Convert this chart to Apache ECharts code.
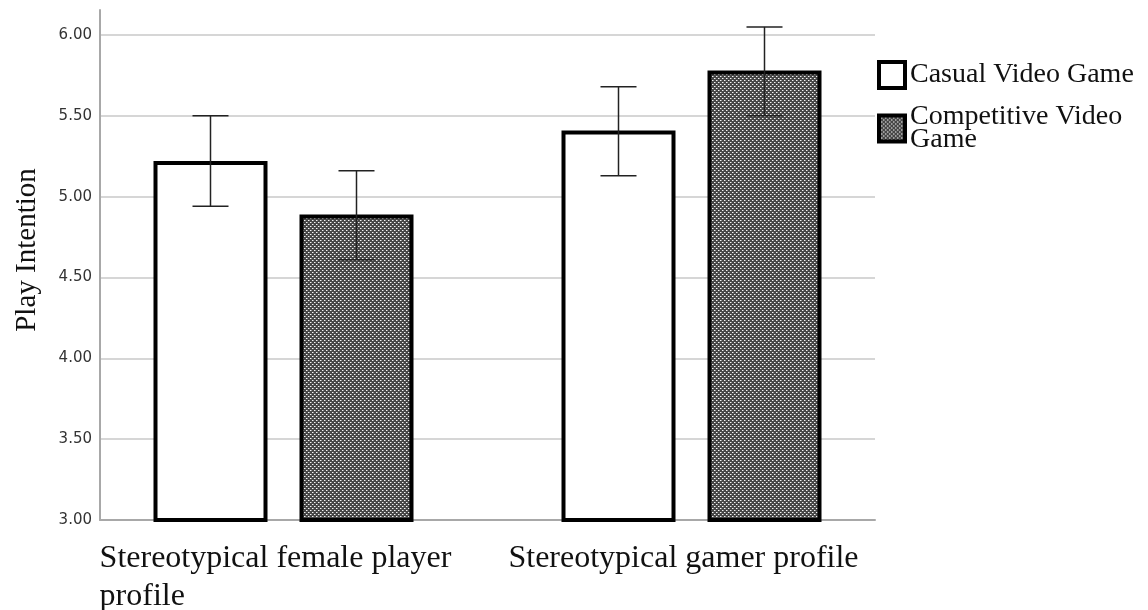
<!DOCTYPE html>
<html>
<head>
<meta charset="utf-8">
<script src="https://cdn.jsdelivr.net/npm/echarts@6/dist/echarts.min.js"></script>
<style>
html,body{margin:0;padding:0;background:#fff;}
#chart{width:1148px;height:610px;}
</style>
</head>
<body>
<div id="chart"></div>
<script>
// ---- data ----
var categories = ['Stereotypical female player\nprofile', 'Stereotypical gamer profile'];
var seriesNames = ['Casual Video Game', 'Competitive Video Game'];
var casualMean = [5.22, 5.41];
var casualLow = [4.94, 5.13];
var casualHigh = [5.50, 5.68];
var competitiveMean = [4.89, 5.78];
var competitiveLow = [4.61, 5.50];
var competitiveHigh = [5.16, 6.05];
var yMin = 3, yMax = 6, yStep = 0.5;

// ---- pattern fill ----
var pc = document.createElement('canvas');
pc.width = 4; pc.height = 4;
var pctx = pc.getContext('2d');
pctx.fillStyle = '#474747';
pctx.fillRect(0, 0, 4, 4);
pctx.fillStyle = '#f4f4f4';
pctx.fillRect(0, 0, 1, 1);
pctx.fillRect(2, 2, 1, 1);
pctx.fillStyle = '#9a9a9a';
pctx.fillRect(1, 0, 1, 1);
pctx.fillRect(3, 2, 1, 1);
var patternFill = { image: pc, repeat: 'repeat' };

var serif = 'Liberation Serif, Times New Roman, serif';
var BAR_W = 114, BAR_GAP_PX = 32;
var offset = (BAR_W + BAR_GAP_PX) / 2;

function errData(low, high) {
  return low.map(function (l, i) { return [i, l, high[i]]; });
}
function errRender(dx) {
  return function (params, api) {
    var cat = api.value(0);
    var pLow = api.coord([cat, api.value(1)]);
    var pHigh = api.coord([cat, api.value(2)]);
    var x = pLow[0] + dx;
    var cap = 18;
    var st = { stroke: '#222', lineWidth: 1.5 };
    return {
      type: 'group',
      children: [
        { type: 'line', shape: { x1: x, y1: pLow[1], x2: x, y2: pHigh[1] }, style: st },
        { type: 'line', shape: { x1: x - cap, y1: pLow[1], x2: x + cap, y2: pLow[1] }, style: st },
        { type: 'line', shape: { x1: x - cap, y1: pHigh[1], x2: x + cap, y2: pHigh[1] }, style: st }
      ]
    };
  };
}

var chart = echarts.init(document.getElementById('chart'), null, { renderer: 'canvas' });
chart.setOption({
  animation: false,
  backgroundColor: '#fff',
  grid: [
    { left: 100, right: 273, top: 35, bottom: 90, outerBoundsMode: 'none', containLabel: false },
    { left: 100, right: 273, top: 10, bottom: 90, outerBoundsMode: 'none', containLabel: false },
    { left: 79.5, right: 252.5, top: 35, bottom: 90, outerBoundsMode: 'none', containLabel: false }
  ],
  legend: {
    orient: 'vertical',
    left: 877,
    top: 60,
    padding: 0,
    itemGap: 13,
    itemWidth: 26,
    itemHeight: 26,
    icon: 'rect',
    formatter: function (n) { return n === seriesNames[1] ? 'Competitive Video\nGame' : n; },
    textStyle: { fontFamily: serif, fontSize: 28, color: '#111', lineHeight: 23 },
    data: [
      { name: seriesNames[0], itemStyle: { color: '#fff', borderColor: '#000', borderWidth: 4 } },
      { name: seriesNames[1], itemStyle: { color: patternFill, borderColor: '#000', borderWidth: 4 } }
    ]
  },
  xAxis: [
    { gridIndex: 0, type: 'category', data: categories,
      axisLine: { show: true, lineStyle: { color: '#a8a8a8', width: 2 } },
      axisTick: { show: false }, axisLabel: { show: false }, splitLine: { show: false } },
    { gridIndex: 1, type: 'category', data: categories, show: false },
    { gridIndex: 2, type: 'category', data: categories,
      axisLine: { show: false }, axisTick: { show: false }, splitLine: { show: false },
      axisLabel: {
        show: true, margin: 20, interval: 0,
        fontFamily: serif, fontSize: 32, lineHeight: 38, color: '#111',
        padding: [0, 16, 0, 0],
        formatter: function (v) {
          var lines = v.split('\n');
          return lines.map(function (s, i) { return (i === 0 ? '{c|' : '{l|') + s + '}'; }).join('\n');
        },
        rich: {
          c: { fontFamily: serif, fontSize: 32, lineHeight: 38, color: '#111' },
          l: { fontFamily: serif, fontSize: 32, lineHeight: 38, color: '#111', align: 'left' }
        }
      } }
  ],
  yAxis: [
    { gridIndex: 0, type: 'value', min: yMin, max: yMax, interval: yStep,
      name: 'Play Intention', nameLocation: 'middle', nameGap: 58, nameRotate: 90,
      nameTextStyle: { fontFamily: serif, fontSize: 29, color: '#111', padding: [0, 0, 0, 55] },
      axisLine: { show: false }, axisTick: { show: false },
      axisLabel: { margin: 8, fontFamily: 'DejaVu Sans', fontSize: 15, color: '#333',
        formatter: function (v) { return v.toFixed(2); } },
      splitLine: { show: true, lineStyle: { color: '#c8c8c8', width: 1.5 } } },
    { gridIndex: 1, type: 'value', min: yMin, max: yMax + (yMax - yMin) * 25 / 485,
      axisLine: { show: true, lineStyle: { color: '#a8a8a8', width: 2 } },
      axisTick: { show: false }, axisLabel: { show: false }, splitLine: { show: false } },
    { gridIndex: 2, type: 'value', min: yMin, max: yMax, interval: yStep, show: false,
      splitLine: { show: false } }
  ],
  series: [
    { name: seriesNames[0], type: 'bar', xAxisIndex: 2, yAxisIndex: 2,
      data: casualMean, barWidth: BAR_W, barGap: (BAR_GAP_PX / BAR_W * 100) + '%',
      itemStyle: { color: '#fff', borderColor: '#000', borderWidth: 4 }, z: 2 },
    { name: seriesNames[1], type: 'bar', xAxisIndex: 2, yAxisIndex: 2,
      data: competitiveMean, barWidth: BAR_W,
      itemStyle: { color: patternFill, borderColor: '#000', borderWidth: 4 }, z: 2 },
    { type: 'custom', xAxisIndex: 2, yAxisIndex: 2, data: errData(casualLow, casualHigh),
      renderItem: errRender(-offset), z: 5, silent: true },
    { type: 'custom', xAxisIndex: 2, yAxisIndex: 2, data: errData(competitiveLow, competitiveHigh),
      renderItem: errRender(offset), z: 5, silent: true }
  ]
});
</script>
</body>
</html>
